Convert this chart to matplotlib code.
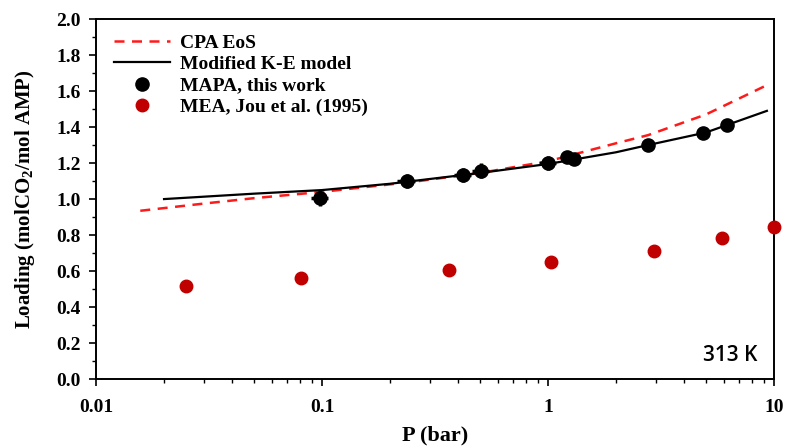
import numpy as np
import matplotlib.pyplot as plt
from matplotlib.ticker import MultipleLocator, LogLocator, FixedFormatter, FixedLocator

plt.rcParams['font.family'] = ['Liberation Serif', 'DejaVu Serif']
plt.rcParams['font.weight'] = 'bold'
plt.rcParams['axes.labelweight'] = 'bold'
plt.rcParams['mathtext.fontset'] = 'custom'
plt.rcParams['mathtext.rm'] = 'Liberation Serif:bold'
plt.rcParams['mathtext.bf'] = 'Liberation Serif:bold'

# CPA EoS curve
p_cpa = [0.0157, 0.03, 0.05, 0.1, 0.25, 0.5, 1.0, 2.0, 2.77, 5.0, 9.2]
load_cpa = [0.935, 0.975, 1.005, 1.04, 1.095, 1.145, 1.21, 1.31, 1.355, 1.47, 1.63]

# Modified K-E model curve
p_ke = [0.02, 0.05, 0.1, 0.2, 0.5, 1.0, 2.0, 2.77, 5.0, 9.3]
load_ke = [1.00, 1.03, 1.05, 1.085, 1.145, 1.195, 1.26, 1.30, 1.37, 1.49]

# MAPA, this work
p_mapa = [0.098, 0.237, 0.42, 0.505, 1.0, 1.21, 1.30, 2.77, 4.85, 6.2]
load_mapa = [1.005, 1.10, 1.135, 1.158, 1.20, 1.235, 1.22, 1.30, 1.367, 1.41]
yerr_mapa = [0.045, 0.04, 0.04, 0.04, 0.04, 0.0, 0.0, 0.0, 0.0, 0.0]
xerr_frac = [0.09, 0.09, 0.09, 0.09, 0.09, 0.0, 0.0, 0.0, 0.0, 0.0]

# MEA, Jou et al. (1995)
p_mea = [0.025, 0.081, 0.364, 1.03, 2.95, 5.9, 10.0]
load_mea = [0.515, 0.56, 0.605, 0.65, 0.71, 0.785, 0.845]

fig = plt.figure(figsize=(7.85, 4.46), dpi=100)
ax = fig.add_axes([0.1223, 0.150, 0.8637, 0.8073])

ax.plot(p_cpa, load_cpa, color='#ff1a1a', ls=(0, (4, 3)), lw=1.8, label='CPA EoS')
ax.plot(p_ke, load_ke, color='black', lw=1.6, label='Modified K-E model')

xe = np.array(p_mapa) * np.array(xerr_frac)
ax.errorbar(p_mapa, load_mapa, yerr=yerr_mapa, xerr=[xe, xe], fmt='none',
            ecolor='black', elinewidth=2.5, capsize=0)
ax.plot(p_mapa, load_mapa, 'o', color='black', ms=9.5, ls='none',
        label='MAPA, this work')
ax.plot(p_mea, load_mea, 'o', color='#c00000', ms=9, ls='none',
        label='MEA, Jou et al. (1995)', clip_on=False, zorder=5)

ax.set_xscale('log')
ax.set_xlim(0.01, 10)
ax.set_ylim(0, 2.0)
ax.xaxis.set_major_locator(FixedLocator([0.01, 0.1, 1, 10]))
ax.xaxis.set_major_formatter(FixedFormatter(['0.01', '0.1', '1', '10']))
ax.xaxis.set_minor_locator(LogLocator(base=10, subs=np.arange(2, 10)))
ax.yaxis.set_major_locator(MultipleLocator(0.2))
ax.yaxis.set_minor_locator(MultipleLocator(0.1))
ax.yaxis.set_major_formatter(plt.FuncFormatter(lambda v, _: f'{v:.1f}'))

ax.tick_params(which='major', direction='out', length=5, width=1.2, labelsize=14)
ax.tick_params(which='minor', direction='out', length=3, width=1.0)
ax.tick_params(axis='x', pad=9)
ax.tick_params(axis='y', pad=6)
for s in ax.spines.values():
    s.set_linewidth(1.4)

ax.set_xlabel('P (bar)', fontsize=16, fontweight='bold', labelpad=7)
ax.set_ylabel(r'Loading (molCO$_2$/mol AMP)', fontsize=15, fontweight='bold', labelpad=14)

leg = ax.legend(loc='upper left', frameon=False, handlelength=2.9,
                handletextpad=0.5, labelspacing=0.2, borderaxespad=0.0,
                bbox_to_anchor=(0.015, 0.98), prop={'weight': 'bold', 'size': 14})

ax.text(0.935, 0.065, '313 K', transform=ax.transAxes, ha='center', va='center',
        fontsize=15, family='Open Sans', fontweight='semibold')

fig.savefig('out.png', dpi=100)
